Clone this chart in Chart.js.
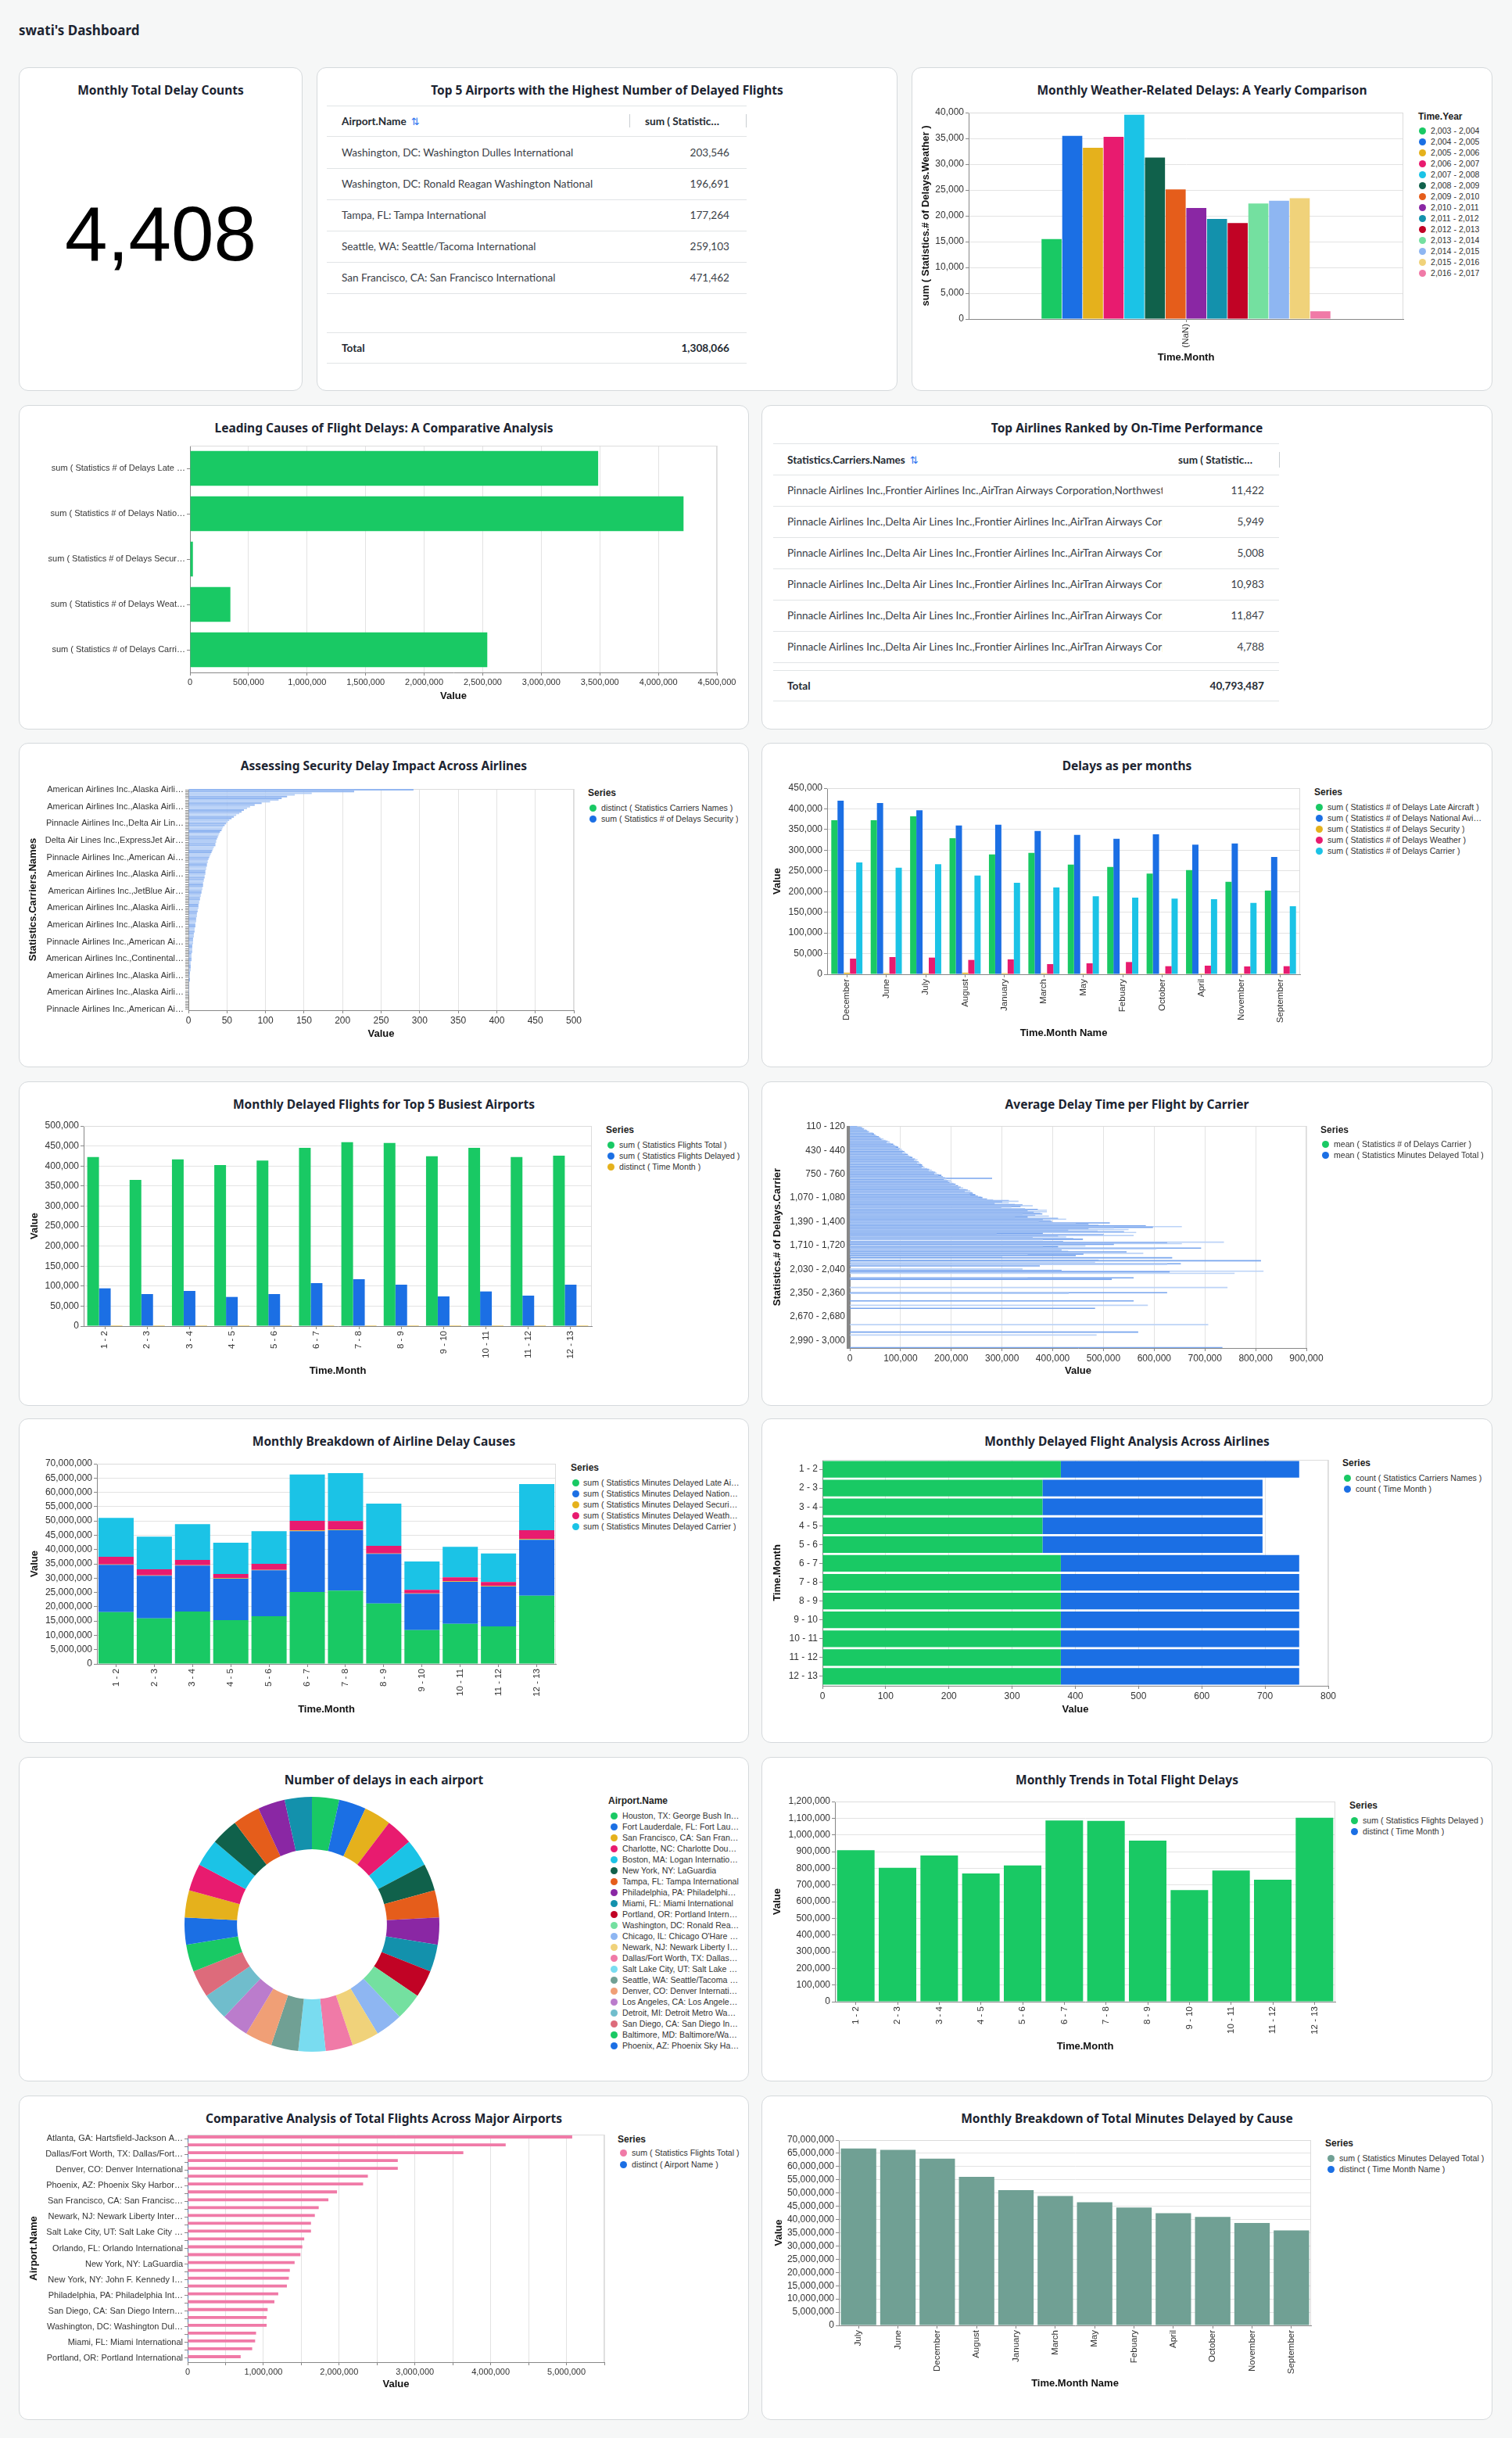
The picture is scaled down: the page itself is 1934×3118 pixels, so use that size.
<!DOCTYPE html>
<html><head><meta charset="utf-8">
<script src="https://cdn.jsdelivr.net/npm/chart.js@4.4.1/dist/chart.umd.min.js"></script>
<style>
html,body{margin:0;padding:0;}
body{width:1934px;height:3118px;background:#f6f7f7;position:relative;overflow:hidden;font-family:'Liberation Sans',Arial,sans-serif;}
.card{position:absolute;background:#fff;border:1px solid #d5d9dc;border-radius:12px;box-sizing:border-box;}
.ctitle{position:absolute;left:0;right:0;top:18px;text-align:center;font:bold 15.5px/20px 'Noto Sans',Lato,sans-serif;color:#1c2431;white-space:nowrap;}
.abs{position:absolute;white-space:nowrap;}
.lg-title{font:bold 12px/14px 'Liberation Sans',Arial,sans-serif;color:#1e1e1e;}
.lg-text{font:10.6px/14px 'Liberation Sans',Arial,sans-serif;color:#333;overflow:hidden;text-overflow:ellipsis;}
.dot{position:absolute;width:9px;height:9px;border-radius:50%;}
.hl{position:absolute;height:1px;background:#e1e4e6;}
.vl{position:absolute;width:1px;background:#c9ced2;}
.cell{font:13.6px/16px Lato,'Noto Sans',sans-serif;color:#3b4148;}
.head{font:bold 13.6px/16px Lato,'Noto Sans',sans-serif;color:#252b33;}
.icon{font:13px/16px 'DejaVu Sans',sans-serif;color:#2a73f0;margin-left:6px;}
canvas{position:absolute;}
</style></head><body>
<script>
// ================= DATA =================
const kpiTotalDelayCounts = 4408;

const topAirportNames = ['Washington, DC: Washington Dulles International','Washington, DC: Ronald Reagan Washington National','Tampa, FL: Tampa International','Seattle, WA: Seattle/Tacoma International','San Francisco, CA: San Francisco International'];
const topAirportDelayed = [203546, 196691, 177264, 259103, 471462];
const topAirportTotal = 1308066;

const weatherMonthLabels = ['(NaN)'];
const weatherYears = ['2,003 - 2,004','2,004 - 2,005','2,005 - 2,006','2,006 - 2,007','2,007 - 2,008','2,008 - 2,009','2,009 - 2,010','2,010 - 2,011','2,011 - 2,012','2,012 - 2,013','2,013 - 2,014','2,014 - 2,015','2,015 - 2,016','2,016 - 2,017'];
const weatherDelays = [15500, 35500, 33200, 35300, 39600, 31300, 25100, 21500, 19400, 18600, 22400, 22900, 23400, 1500];

const causeLabels = ['sum ( Statistics # of Delays Late Aircraft )','sum ( Statistics # of Delays National Aviation System )','sum ( Statistics # of Delays Security )','sum ( Statistics # of Delays Weather )','sum ( Statistics # of Delays Carrier )'];
const causeValues = [3486000, 4215000, 25000, 345000, 2539000];

const carrierTableNames = [
 'Pinnacle Airlines Inc.,Frontier Airlines Inc.,AirTran Airways Corporation,Northwest Airlines Inc.',
 'Pinnacle Airlines Inc.,Delta Air Lines Inc.,Frontier Airlines Inc.,AirTran Airways Corporation,Northwest Airlines Inc.',
 'Pinnacle Airlines Inc.,Delta Air Lines Inc.,Frontier Airlines Inc.,AirTran Airways Corporation,ExpressJet Airlines Inc.',
 'Pinnacle Airlines Inc.,Delta Air Lines Inc.,Frontier Airlines Inc.,AirTran Airways Corporation,Comair Inc.',
 'Pinnacle Airlines Inc.,Delta Air Lines Inc.,Frontier Airlines Inc.,AirTran Airways Corporation,Mesa Airlines Inc.',
 'Pinnacle Airlines Inc.,Delta Air Lines Inc.,Frontier Airlines Inc.,AirTran Airways Corporation,SkyWest Airlines Inc.'];
const carrierTableValues = [11422, 5949, 5008, 10983, 11847, 4788];
const carrierTableTotal = 40793487;

const securityCarrierNames = [
 'American Airlines Inc.,Alaska Airlines Inc.,JetBlue Airways,Continental Air Lines Inc.',
 'American Airlines Inc.,Alaska Airlines Inc.,Continental Air Lines Inc.,Delta Air Lines Inc.',
 'Pinnacle Airlines Inc.,Delta Air Lines Inc.,ExpressJet Airlines Inc.',
 'Delta Air Lines Inc.,ExpressJet Airlines Inc.,SkyWest Airlines Inc.',
 'Pinnacle Airlines Inc.,American Airlines Inc.,Delta Air Lines Inc.',
 'American Airlines Inc.,Alaska Airlines Inc.,JetBlue Airways',
 'American Airlines Inc.,JetBlue Airways,Continental Air Lines Inc.',
 'American Airlines Inc.,Alaska Airlines Inc.,Delta Air Lines Inc.',
 'American Airlines Inc.,Alaska Airlines Inc.,United Air Lines Inc.',
 'Pinnacle Airlines Inc.,American Airlines Inc.,Comair Inc.',
 'American Airlines Inc.,Continental Air Lines Inc.,Delta Air Lines Inc.',
 'American Airlines Inc.,Alaska Airlines Inc.,US Airways Inc.',
 'American Airlines Inc.,Alaska Airlines Inc.,Southwest Airlines Co.',
 'Pinnacle Airlines Inc.,American Airlines Inc.,Mesa Airlines Inc.'];
const securityDelays = [292,215,160,138,128,121,117,106,95,86,
 80,76,72,69,66,62,59,56,53,51,
 49,47,45,44,43,41,40,39,38,37,
 36,36,35,35,33,32,31,30,29,28,
 27,26,25,25,24,24,23,23,22,22,
 22,21,21,20,20,19,19,19,18,18,
 17,17,16,16,15,15,14,14,13,13,
 13,12,12,11,11,11,10,10,10,9,
 9,9,8,8,8,7,7,7,6,6,
 6,6,5,5,5,5,5,4,4,4,
 4,4,3,3,3,3,3,3,2,2,
 2,2,2,2,1,1,1,1,1,1,
 1,1,0,0,0,0,0,0,0,0,0];

const monthNames = ['December','June','July','August','January','March','May','Febuary','October','April','November','September'];
const delaysLateAircraft = [372500, 372500, 381900, 329000, 289900, 293700, 265300, 259700, 243300, 252100, 223700, 202300];
const delaysNational = [419700, 414100, 396400, 359900, 361800, 346600, 337200, 327700, 338400, 313200, 316400, 283600];
const delaysSecurity = [3800, 2500, 2500, 3800, 2500, 2500, 2000, 2000, 2000, 2000, 2000, 2000];
const delaysWeather = [37800, 41600, 40300, 34700, 35900, 24600, 26500, 29600, 19500, 20800, 18900, 19500];
const delaysCarrier = [270400, 257800, 266000, 238900, 221200, 209900, 188400, 185300, 182800, 181500, 172700, 164500];

const monthRanges = ['1 - 2','2 - 3','3 - 4','4 - 5','5 - 6','6 - 7','7 - 8','8 - 9','9 - 10','10 - 11','11 - 12','12 - 13'];
const top5FlightsTotal = [422500, 365200, 416700, 402300, 413400, 445300, 459600, 457700, 424500, 445300, 422500, 425800];
const top5FlightsDelayed = [94400, 80100, 87900, 72900, 80100, 107400, 117200, 103500, 74200, 86600, 76200, 103500];
const top5DistinctMonth = [1,1,1,1,1,1,1,1,1,1,1,1];

const avgBinFirst = 110, avgBinSize = 10;
const avgTickValues = [120, 440, 760, 1080, 1400, 1720, 2040, 2360, 2680, 3000];
const avgTickLabels = ['110 - 120','430 - 440','750 - 760','1,070 - 1,080','1,390 - 1,400','1,710 - 1,720','2,030 - 2,040','2,350 - 2,360','2,670 - 2,680','2,990 - 3,000'];
const avgMinutesDense = [
 14000,21000,24000,28000,27000,32000,34000,38000,36000,45000,
 47000,43000,50000,53000,57000,52000,60000,66000,62000,70000,
 74000,78000,72000,80000,85000,81000,88000,92000,95000,90000,
 98000,102000,97000,104000,107000,109000,103000,111000,114000,108000,
 116000,120000,123000,118000,128000,133000,126000,131000,135000,137000,
 132000,140000,142000,136000,144000,147000,141000,152000,156000,161000,
 155000,164000,168000,171000,166000,175000,180000,174000,183000,187000,
 280000,190000,185000,199000,193000,201000,196000,204000,208000,200000,
 213000,209000,218000,223000,215000,228000,232000,237000,226000,240000,
 242000,235000,247000,237000,252000,258000,261000,254000,270000,282000,
 313000,332000,300000,313000,285000,325000,340000,360000,336000,318000,
 298000,345000,370000,388000,350000,388000,362000,375000,379000,340000,
 365000,392000,350000,325000,410000,426000,380000,395000,398000,372000,
 512000,445000,470000,490000,583000,654000,597000,520000,470000,549000,
 430000,488000,540000,564000,380000,289000,500000,559000,410000,426000,
 360000,440000,459000,380000,null,420000,737000,625000,654000,520000,
 null,464000,410000,380000,692000,604000,null,417000,430000,545000,
 null,578000,460000,350000,445000,null,300000,635000,null,null,
 490000,810000,null,483000,null,652000,625000,null,374000,null,
 null,null,340000,null,417000,815000,630000,null,758000,null,
 null,null,null,null,559000,350000,516000,null,null,null];
const avgTailBins = [2280, 2350, 2360, 2460, 2520, 2560, 2780, 2880, 2920, 3090];
const avgTailMinutes = [744000, 625000, 431000, 559000, 587000, 483000, 706000, 568000, 486000, 734000];

const minutesLate = [18140000, 15950000, 18320000, 15310000, 16680000, 25160000, 25610000, 21150000, 11850000, 14040000, 13130000, 23880000];
const minutesNational = [16500000, 14860000, 16040000, 14490000, 16040000, 21230000, 21150000, 17310000, 12670000, 14670000, 13940000, 19510000];
const minutesSecurity = [180000, 180000, 180000, 190000, 180000, 280000, 180000, 190000, 180000, 180000, 180000, 270000];
const minutesWeather = [2640000, 2100000, 1830000, 1460000, 2100000, 3370000, 3010000, 2640000, 1190000, 1370000, 1370000, 3100000];
const minutesCarrier = [13580000, 11390000, 12480000, 10930000, 11390000, 16220000, 16770000, 14760000, 9930000, 10660000, 10030000, 16130000];

const countCarrierNames = [377, 348, 348, 348, 348, 377, 377, 377, 377, 377, 377, 377];
const countTimeMonth = [377, 348, 348, 348, 348, 377, 377, 377, 377, 377, 377, 377];

const donutAirports = ['Houston, TX: George Bush Intercontinental/Houston','Fort Lauderdale, FL: Fort Lauderdale-Hollywood International','San Francisco, CA: San Francisco International','Charlotte, NC: Charlotte Douglas International','Boston, MA: Logan International','New York, NY: LaGuardia','Tampa, FL: Tampa International','Philadelphia, PA: Philadelphia International','Miami, FL: Miami International','Portland, OR: Portland International','Washington, DC: Ronald Reagan Washington National',"Chicago, IL: Chicago O'Hare International",'Newark, NJ: Newark Liberty International','Dallas/Fort Worth, TX: Dallas/Fort Worth International','Salt Lake City, UT: Salt Lake City International','Seattle, WA: Seattle/Tacoma International','Denver, CO: Denver International','Los Angeles, CA: Los Angeles International','Detroit, MI: Detroit Metro Wayne County','San Diego, CA: San Diego International','Baltimore, MD: Baltimore/Washington International Thurgood Marshall','Phoenix, AZ: Phoenix Sky Harbor International','Atlanta, GA: Hartsfield-Jackson Atlanta International','Washington, DC: Washington Dulles International','New York, NY: John F. Kennedy International','Las Vegas, NV: McCarran International','Orlando, FL: Orlando International','Chicago, IL: Chicago Midway International','Minneapolis, MN: Minneapolis-St Paul International'];
const donutCounts = [152,152,152,152,152,152,152,152,152,152,152,152,152,152,152,152,152,152,152,152,152,152,152,152,152,152,152,152,152];

const trendFlightsDelayed = [907800, 803100, 876600, 768800, 817200, 1085900, 1084400, 965600, 668800, 785900, 731300, 1103100];
const trendDistinctMonth = [1,1,1,1,1,1,1,1,1,1,1,1];

const compAirports = ['Atlanta, GA: Hartsfield-Jackson Atlanta International',"Chicago, IL: Chicago O'Hare International",'Dallas/Fort Worth, TX: Dallas/Fort Worth International','Los Angeles, CA: Los Angeles International','Denver, CO: Denver International','Houston, TX: George Bush Intercontinental/Houston','Phoenix, AZ: Phoenix Sky Harbor International','Las Vegas, NV: McCarran International','San Francisco, CA: San Francisco International','Minneapolis, MN: Minneapolis-St Paul International','Newark, NJ: Newark Liberty International','Detroit, MI: Detroit Metro Wayne County','Salt Lake City, UT: Salt Lake City International','Charlotte, NC: Charlotte Douglas International','Orlando, FL: Orlando International','Boston, MA: Logan International','New York, NY: LaGuardia','Seattle, WA: Seattle/Tacoma International','New York, NY: John F. Kennedy International','Baltimore, MD: Baltimore/Washington International Thurgood Marshall','Philadelphia, PA: Philadelphia International','Chicago, IL: Chicago Midway International','San Diego, CA: San Diego International','Washington, DC: Ronald Reagan Washington National','Washington, DC: Washington Dulles International','Fort Lauderdale, FL: Fort Lauderdale-Hollywood International','Miami, FL: Miami International','Tampa, FL: Tampa International','Portland, OR: Portland International'];
const compFlightsTotal = [5076000, 4198000, 3639000, 2774000, 2774000, 2379000, 2316000, 1972000, 1858000, 1730000, 1679000, 1628000, 1628000, 1539000, 1514000, 1489000, 1412000, 1349000, 1336000, 1310000, 1196000, 1145000, 1056000, 1043000, 1043000, 903000, 891000, 852000, 700000];
const compDistinctAirport = [1,1,1,1,1,1,1,1,1,1,1,1,1,1,1,1,1,1,1,1,1,1,1,1,1,1,1,1,1];

const minutesMonthNames = ['July','June','December','August','January','March','May','Febuary','April','October','November','September'];
const minutesTotalByMonth = [66800000, 66300000, 63000000, 56100000, 51100000, 48900000, 46500000, 44500000, 42400000, 41000000, 38700000, 35900000];
const minutesDistinctMonthName = [1,1,1,1,1,1,1,1,1,1,1,1];

// ================= STYLE / HELPERS =================
const PALETTE = ['#19c964','#1b6fe4','#e5b11c','#e81b6f','#1bc3e6','#10614b','#e55d1b','#8a27a4','#1391ac','#c10325','#74e0a0','#8eb6f2','#f0d27a','#f07aa7','#79dcf0','#70a094','#f09f76','#bb7ccc','#70bdcc','#dd6b7b'];
const P = PALETTE;
const FONT = "'Liberation Sans', Arial, sans-serif";
Chart.defaults.font.family = FONT;

function addDiv(text, x, top, cls) {
  const d = document.createElement('div');
  d.className = cls; d.textContent = text;
  d.style.left = x + 'px'; d.style.top = top + 'px';
  document.body.appendChild(d); return d;
}
function addRight(text, right, top, cls, w) {
  const d = addDiv(text, right - (w || 200), top, cls);
  d.style.width = (w || 200) + 'px'; d.style.textAlign = 'right'; return d;
}
function hline(x1, x2, y) { const d = document.createElement('div'); d.className = 'hl'; d.style.left = x1 + 'px'; d.style.width = (x2 - x1) + 'px'; d.style.top = y + 'px'; document.body.appendChild(d); }
function vline(x, y1, y2) { const d = document.createElement('div'); d.className = 'vl'; d.style.left = x + 'px'; d.style.top = y1 + 'px'; d.style.height = (y2 - y1) + 'px'; document.body.appendChild(d); }
function addIcon(el) { const s = document.createElement('span'); s.className = 'icon'; s.textContent = '⇅'; el.appendChild(s); }
function card(x, y, w, h, title) {
  const c = document.createElement('div'); c.className = 'card';
  c.style.left = x + 'px'; c.style.top = y + 'px'; c.style.width = w + 'px'; c.style.height = h + 'px';
  const t = document.createElement('div'); t.className = 'ctitle'; t.textContent = title; c.appendChild(t);
  document.body.appendChild(c);
}
function legend(s) {
  addDiv(s.title, s.tx, s.ty - 7, 'abs lg-title');
  s.items.forEach(([label, color], i) => {
    const y = s.y0 + i * (s.step || 14);
    if (s.maxY && y > s.maxY) return;
    const d = document.createElement('div'); d.className = 'dot';
    d.style.left = (s.dx - 4.5) + 'px'; d.style.top = (y - 4.5) + 'px'; d.style.background = color;
    document.body.appendChild(d);
    const t = addDiv(label, s.lx, y - 7, 'abs lg-text'); t.style.maxWidth = s.maxW + 'px';
  });
}
const mctx = document.createElement('canvas').getContext('2d');
function trunc(text, maxW, size) {
  mctx.font = size + 'px ' + FONT;
  if (mctx.measureText(text).width <= maxW) return text;
  let t = text;
  while (t.length > 1 && mctx.measureText(t + '…').width > maxW) t = t.slice(0, -1);
  return t + '…';
}
function merge(a, b) {
  for (const k in b) {
    const v = b[k];
    if (v && typeof v === 'object' && !Array.isArray(v) && a[k] && typeof a[k] === 'object') merge(a[k], v);
    else a[k] = v;
  }
  return a;
}
const framePlugin = {
  id: 'frame',
  beforeDatasetsDraw(chart) {
    const a = chart.chartArea, ctx = chart.ctx;
    ctx.save(); ctx.strokeStyle = '#dcdcdc'; ctx.lineWidth = 1; ctx.beginPath();
    ctx.moveTo(a.left, Math.round(a.top) + 0.5); ctx.lineTo(a.right, Math.round(a.top) + 0.5);
    ctx.moveTo(Math.round(a.right) - 0.5, a.top); ctx.lineTo(Math.round(a.right) - 0.5, a.bottom);
    ctx.stroke(); ctx.restore();
  }
};
function mkCanvas(box) {
  const c = document.createElement('canvas');
  c.width = box[2]; c.height = box[3];
  c.style.left = box[0] + 'px'; c.style.top = box[1] + 'px';
  c.style.width = box[2] + 'px'; c.style.height = box[3] + 'px';
  document.body.appendChild(c); return c;
}
function numAxis(extra) {
  return merge({
    type: 'linear', beginAtZero: true, min: 0,
    grid: {color: '#e3e3e3', lineWidth: 1, drawTicks: true, tickLength: 4, tickColor: '#888', tickWidth: 1},
    border: {display: true, color: '#888', width: 1},
    ticks: {color: '#333', font: {family: FONT, size: 12}, padding: 2, autoSkip: false, maxRotation: 0, minRotation: 0},
    title: {display: true, text: 'Value', color: '#111', font: {family: FONT, size: 13, weight: 'bold'}, padding: 0}
  }, extra || {});
}
function catAxis(extra) {
  return merge({
    type: 'category', offset: true,
    grid: {display: true, drawOnChartArea: false, drawTicks: true, tickLength: 4, tickColor: '#888', offset: false},
    border: {display: true, color: '#888', width: 1},
    ticks: {color: '#333', font: {family: FONT, size: 11.5}, padding: 2, autoSkip: false},
    title: {display: true, text: '', color: '#111', font: {family: FONT, size: 13, weight: 'bold'}, padding: 0}
  }, extra || {});
}
function cartesian(box, plot, data, opt) {
  const [cx, cy, cw, ch] = box, [x1, y1, x2, y2] = plot;
  const yW = x1 - cx, xH = cy + ch - y2;
  opt.scales.x.afterFit = s => { s.height = xH; s.paddingLeft = 0; s.paddingRight = 0; s.paddingTop = 0; s.paddingBottom = 0; };
  opt.scales.y.afterFit = s => { s.width = yW; s.paddingLeft = 0; s.paddingRight = 0; s.paddingTop = 0; s.paddingBottom = 0; };
  return new Chart(mkCanvas(box), {
    type: 'bar', data, plugins: [framePlugin],
    options: merge({
      responsive: false, devicePixelRatio: 1, animation: false, locale: 'en-US', events: [],
      layout: {padding: {left: 0, top: y1 - cy, right: cx + cw - x2, bottom: 0}},
      plugins: {legend: {display: false}, tooltip: {enabled: false}},
      datasets: {bar: {borderWidth: 0}}
    }, opt)
  });
}
const rot = {minRotation: 90, maxRotation: 90};

// ================= PAGE =================
const dt = addDiv("swati's Dashboard", 24, 28, 'abs');
dt.style.font = "bold 17px/22px 'Noto Sans',Lato,sans-serif"; dt.style.color = '#1c2431';

const L = 24, LW = 934, R = 974, RW = 935, H = 415;
card(24, 86, 363, 414, 'Monthly Total Delay Counts');
card(405, 86, 743, 414, 'Top 5 Airports with the Highest Number of Delayed Flights');
card(1166, 86, 743, 414, 'Monthly Weather-Related Delays: A Yearly Comparison');
card(L, 518, LW, H, 'Leading Causes of Flight Delays: A Comparative Analysis');
card(R, 518, RW, H, 'Top Airlines Ranked by On-Time Performance');
card(L, 950, LW, H, 'Assessing Security Delay Impact Across Airlines');
card(R, 950, RW, H, 'Delays as per months');
card(L, 1383, LW, H, 'Monthly Delayed Flights for Top 5 Busiest Airports');
card(R, 1383, RW, H, 'Average Delay Time per Flight by Carrier');
card(L, 1814, LW, H, 'Monthly Breakdown of Airline Delay Causes');
card(R, 1814, RW, H, 'Monthly Delayed Flight Analysis Across Airlines');
card(L, 2247, LW, H, 'Number of delays in each airport');
card(R, 2247, RW, H, 'Monthly Trends in Total Flight Delays');
card(L, 2680, LW, H, 'Comparative Analysis of Total Flights Across Major Airports');
card(R, 2680, RW, H, 'Monthly Breakdown of Total Minutes Delayed by Cause');

// KPI
const kpi = addDiv(kpiTotalDelayCounts.toLocaleString('en-US'), 24, 249, 'abs');
kpi.style.width = '363px'; kpi.style.textAlign = 'center';
kpi.style.font = "98px/100px 'Liberation Sans',Arial,sans-serif"; kpi.style.color = '#000';

// Table 1
[135, 174, 215, 255, 295, 335, 375, 425, 464].forEach(y => hline(418, 955, y));
vline(805, 146, 163); vline(954, 146, 163);
addIcon(addDiv('Airport.Name', 437, 147, 'abs head'));
const h12 = addDiv('sum ( Statistics Flights Delayed )', 825, 147, 'abs head'); h12.style.width = '97px'; h12.style.overflow = 'hidden'; h12.style.textOverflow = 'ellipsis';
topAirportNames.forEach((n, i) => { addDiv(n, 437, 186.5 + 40 * i, 'abs cell'); addRight(topAirportDelayed[i].toLocaleString('en-US'), 933, 186.5 + 40 * i, 'abs cell'); });
addDiv('Total', 437, 436.5, 'abs head');
addRight(topAirportTotal.toLocaleString('en-US'), 933, 436.5, 'abs head');

// Table 2
[567, 607, 647, 687, 727, 767, 807, 847, 857, 896].forEach(y => hline(989, 1636, y));
vline(1636, 578, 598);
addIcon(addDiv('Statistics.Carriers.Names', 1007, 580, 'abs head'));
const h22 = addDiv('sum ( Statistics # of Delays Carrier )', 1507, 580, 'abs head'); h22.style.width = '97px'; h22.style.overflow = 'hidden'; h22.style.textOverflow = 'ellipsis';
carrierTableNames.forEach((n, i) => {
  const d = addDiv(n, 1007, 619 + 40 * i, 'abs cell'); d.style.width = '480px'; d.style.overflow = 'hidden';
  addRight(carrierTableValues[i].toLocaleString('en-US'), 1617, 619 + 40 * i, 'abs cell');
});
addDiv('Total', 1007, 869, 'abs head');
addRight(carrierTableTotal.toLocaleString('en-US'), 1617, 869, 'abs head');

// ---- Weather chart
cartesian([1177, 130, 623, 335], [1239, 144, 1795, 408], {
  labels: weatherMonthLabels,
  datasets: weatherYears.map((yr, i) => ({label: yr, data: [weatherDelays[i]], backgroundColor: P[i], categoryPercentage: 0.666, barPercentage: 0.97}))
}, {scales: {
  x: catAxis({title: {text: 'Time.Month'}, ticks: rot}),
  y: numAxis({max: 40000, ticks: {stepSize: 5000}, title: {text: 'sum ( Statistics.# of Delays.Weather )'}})
}});
legend({title: 'Time.Year', tx: 1814, ty: 149, y0: 167, dx: 1819, lx: 1830, maxW: 80, items: weatherYears.map((y, i) => [y, P[i]])});

// ---- Leading causes
cartesian([40, 556, 915, 342], [243, 570, 917, 860], {
  labels: causeLabels,
  datasets: [{data: causeValues, backgroundColor: P[0], categoryPercentage: 0.8, barPercentage: 0.96}]
}, {indexAxis: 'y', scales: {
  x: numAxis({max: 4500000, ticks: {stepSize: 500000, font: {size: 11}}}),
  y: catAxis({title: {display: false}, ticks: {font: {size: 11}, callback(v) { return trunc(this.getLabelForValue(v), 176, 11); }}})
}});

// ---- Security
const secLabels = securityDelays.map((v, i) => i % 10 === 0 ? securityCarrierNames[i / 10] : '');
cartesian([35, 995, 710, 335], [241, 1009, 734, 1292], {
  labels: secLabels,
  datasets: [{data: securityDelays, backgroundColor: ctx => (ctx.dataIndex >> 1) % 2 ? '#b4cef6' : '#93b7f1', categoryPercentage: 0.92, barPercentage: 1}]
}, {indexAxis: 'y', scales: {
  x: numAxis({max: 500, ticks: {stepSize: 50}}),
  y: catAxis({title: {text: 'Statistics.Carriers.Names'}, ticks: {font: {size: 11}, callback(v) { const l = this.getLabelForValue(v); return l ? trunc(l, 178, 11) : ''; }}})
}});
legend({title: 'Series', tx: 752, ty: 1014, y0: 1033, dx: 758, lx: 769, maxW: 186, items: [['distinct ( Statistics Carriers Names )', P[0]], ['sum ( Statistics # of Delays Security )', P[1]]]});

// ---- Delays per months
const monthSeries = [
  ['sum ( Statistics # of Delays Late Aircraft )', delaysLateAircraft],
  ['sum ( Statistics # of Delays National Aviation System )', delaysNational],
  ['sum ( Statistics # of Delays Security )', delaysSecurity],
  ['sum ( Statistics # of Delays Weather )', delaysWeather],
  ['sum ( Statistics # of Delays Carrier )', delaysCarrier]];
cartesian([987, 994, 688, 335], [1058, 1008, 1663, 1246], {
  labels: monthNames,
  datasets: monthSeries.map(([n, d], i) => ({label: n, data: d, backgroundColor: P[i], categoryPercentage: 0.79, barPercentage: 1}))
}, {scales: {
  x: catAxis({title: {text: 'Time.Month Name'}, ticks: rot}),
  y: numAxis({max: 450000, ticks: {stepSize: 50000}})
}});
legend({title: 'Series', tx: 1681, ty: 1013, y0: 1032, dx: 1687, lx: 1698, maxW: 200, items: monthSeries.map(([n], i) => [n, P[i]])});

// ---- Top 5 busiest
const top5Series = [['sum ( Statistics Flights Total )', top5FlightsTotal], ['sum ( Statistics Flights Delayed )', top5FlightsDelayed], ['distinct ( Time Month )', top5DistinctMonth]];
cartesian([37, 1426, 731, 335], [107, 1440, 757, 1696], {
  labels: monthRanges,
  datasets: top5Series.map(([n, d], i) => ({label: n, data: d, backgroundColor: P[i], categoryPercentage: 0.83, barPercentage: 1}))
}, {scales: {
  x: catAxis({title: {text: 'Time.Month'}, ticks: rot}),
  y: numAxis({max: 500000, ticks: {stepSize: 50000}})
}});
legend({title: 'Series', tx: 775, ty: 1445, y0: 1464, dx: 781, lx: 792, maxW: 165, items: top5Series.map(([n], i) => [n, P[i]])});

// ---- Average delay per carrier (binned)
const avgPoints = [];
avgMinutesDense.forEach((v, i) => { if (v !== null) avgPoints.push({x: v, y: avgBinFirst + avgBinSize * i + avgBinSize / 2}); });
avgTailBins.forEach((b, i) => avgPoints.push({x: avgTailMinutes[i], y: b + avgBinSize / 2}));
cartesian([987, 1426, 718, 335], [1087, 1440, 1671, 1724], {
  datasets: [{data: avgPoints, backgroundColor: ctx => ctx.dataIndex % 2 ? '#bcd3f7' : '#78a5ee', categoryPercentage: 1, barPercentage: 1}]
}, {indexAxis: 'y', scales: {
  x: numAxis({max: 900000, ticks: {stepSize: 100000}}),
  y: merge(numAxis({min: 110, max: 3100, reverse: true, beginAtZero: false, offset: false,
    grid: {drawOnChartArea: false, offset: false},
    title: {text: 'Statistics.# of Delays.Carrier'},
    ticks: {callback(v) { const k = avgTickValues.indexOf(v); return k >= 0 ? avgTickLabels[k] : ''; }}}), {
    afterBuildTicks(s) { const t = []; for (let v = avgBinFirst + avgBinSize; v <= 3100; v += avgBinSize) t.push({value: v}); s.ticks = t; }
  })
}});
legend({title: 'Series', tx: 1689, ty: 1445, y0: 1463, dx: 1695, lx: 1706, maxW: 195, items: [['mean ( Statistics # of Delays Carrier )', P[0]], ['mean ( Statistics Minutes Delayed Total )', P[1]]]});

// ---- Monthly breakdown stacked
const minuteSeries = [
  ['sum ( Statistics Minutes Delayed Late Aircraft )', minutesLate],
  ['sum ( Statistics Minutes Delayed National Aviation System )', minutesNational],
  ['sum ( Statistics Minutes Delayed Security )', minutesSecurity],
  ['sum ( Statistics Minutes Delayed Weather )', minutesWeather],
  ['sum ( Statistics Minutes Delayed Carrier )', minutesCarrier]];
cartesian([37, 1858, 685, 336], [124, 1872, 711, 2128], {
  labels: monthRanges,
  datasets: minuteSeries.map(([n, d], i) => ({label: n, data: d, backgroundColor: P[i], categoryPercentage: 0.92, barPercentage: 1}))
}, {scales: {
  x: catAxis({stacked: true, title: {text: 'Time.Month'}, ticks: rot}),
  y: numAxis({stacked: true, max: 70000000, ticks: {stepSize: 5000000}})
}});
legend({title: 'Series', tx: 730, ty: 1877, y0: 1896, dx: 736, lx: 746, maxW: 200, items: minuteSeries.map(([n], i) => [n, P[i]])});

// ---- Flight analysis across airlines
const countSeries = [['count ( Statistics Carriers Names )', countCarrierNames], ['count ( Time Month )', countTimeMonth]];
cartesian([987, 1853, 725, 341], [1052, 1867, 1699, 2156], {
  labels: monthRanges,
  datasets: countSeries.map(([n, d], i) => ({label: n, data: d, backgroundColor: P[i], categoryPercentage: 0.885, barPercentage: 1}))
}, {indexAxis: 'y', scales: {
  x: numAxis({stacked: true, max: 800, ticks: {stepSize: 100}}),
  y: catAxis({stacked: true, title: {text: 'Time.Month'}, ticks: {font: {size: 12}}})
}});
legend({title: 'Series', tx: 1717, ty: 1871, y0: 1890, dx: 1723, lx: 1734, maxW: 175, items: countSeries.map(([n], i) => [n, P[i]])});

// ---- Donut
new Chart(mkCanvas([229, 2291, 340, 340]), {
  type: 'doughnut',
  data: {labels: donutAirports, datasets: [{data: donutCounts, backgroundColor: donutAirports.map((a, i) => P[i % 20]), borderWidth: 0}]},
  options: {responsive: false, devicePixelRatio: 1, animation: false, events: [], radius: 163, cutout: 100,
    plugins: {legend: {display: false}, tooltip: {enabled: false}}}
});
legend({title: 'Airport.Name', tx: 778, ty: 2303, y0: 2322, dx: 785, lx: 796, maxW: 150, maxY: 2620, items: donutAirports.map((a, i) => [a, P[i % 20]])});

// ---- Monthly trends
const trendSeries = [['sum ( Statistics Flights Delayed )', trendFlightsDelayed], ['distinct ( Time Month )', trendDistinctMonth]];
cartesian([987, 2290, 733, 335], [1068, 2304, 1708, 2560], {
  labels: monthRanges,
  datasets: trendSeries.map(([n, d], i) => ({label: n, data: d, backgroundColor: P[i], categoryPercentage: 0.9, barPercentage: 1}))
}, {scales: {
  x: catAxis({stacked: true, title: {text: 'Time.Month'}, ticks: rot}),
  y: numAxis({stacked: true, max: 1200000, ticks: {stepSize: 100000}})
}});
legend({title: 'Series', tx: 1726, ty: 2309, y0: 2328, dx: 1732, lx: 1743, maxW: 165, items: trendSeries.map(([n], i) => [n, P[i]])});

// ---- Comparative total flights
const compSeries = [['sum ( Statistics Flights Total )', compFlightsTotal, P[13]], ['distinct ( Airport Name )', compDistinctAirport, P[1]]];
cartesian([36, 2716, 749, 341], [240, 2730, 773, 3021], {
  labels: compAirports,
  datasets: compSeries.map(([n, d, c]) => ({label: n, data: d, backgroundColor: c, categoryPercentage: 0.8, barPercentage: 0.95}))
}, {indexAxis: 'y', scales: {
  x: numAxis({max: 5500000, ticks: {stepSize: 500000, font: {size: 11}, callback(v) { return v % 1000000 === 0 ? v.toLocaleString('en-US') : ''; }}}),
  y: catAxis({title: {text: 'Airport.Name'}, ticks: {font: {size: 11}, callback(v, i) { return i % 2 === 0 ? trunc(this.getLabelForValue(v), 176, 11) : ''; }}})
}});
legend({title: 'Series', tx: 790, ty: 2736, y0: 2753, step: 15, dx: 797, lx: 808, maxW: 142, items: compSeries.map(([n, d, c]) => [n, c])});

// ---- Minutes delayed by month name
const minTotSeries = [['sum ( Statistics Minutes Delayed Total )', minutesTotalByMonth, P[15]], ['distinct ( Time Month Name )', minutesDistinctMonthName, P[1]]];
cartesian([989, 2723, 699, 333], [1073, 2737, 1677, 2974], {
  labels: minutesMonthNames,
  datasets: minTotSeries.map(([n, d, c]) => ({label: n, data: d, backgroundColor: c, categoryPercentage: 0.9, barPercentage: 1}))
}, {scales: {
  x: catAxis({stacked: true, title: {text: 'Time.Month Name'}, ticks: rot}),
  y: numAxis({stacked: true, max: 70000000, ticks: {stepSize: 5000000}})
}});
legend({title: 'Series', tx: 1695, ty: 2741, y0: 2760, dx: 1702, lx: 1713, maxW: 192, items: minTotSeries.map(([n, d, c]) => [n, c])});
</script>
</body></html>
